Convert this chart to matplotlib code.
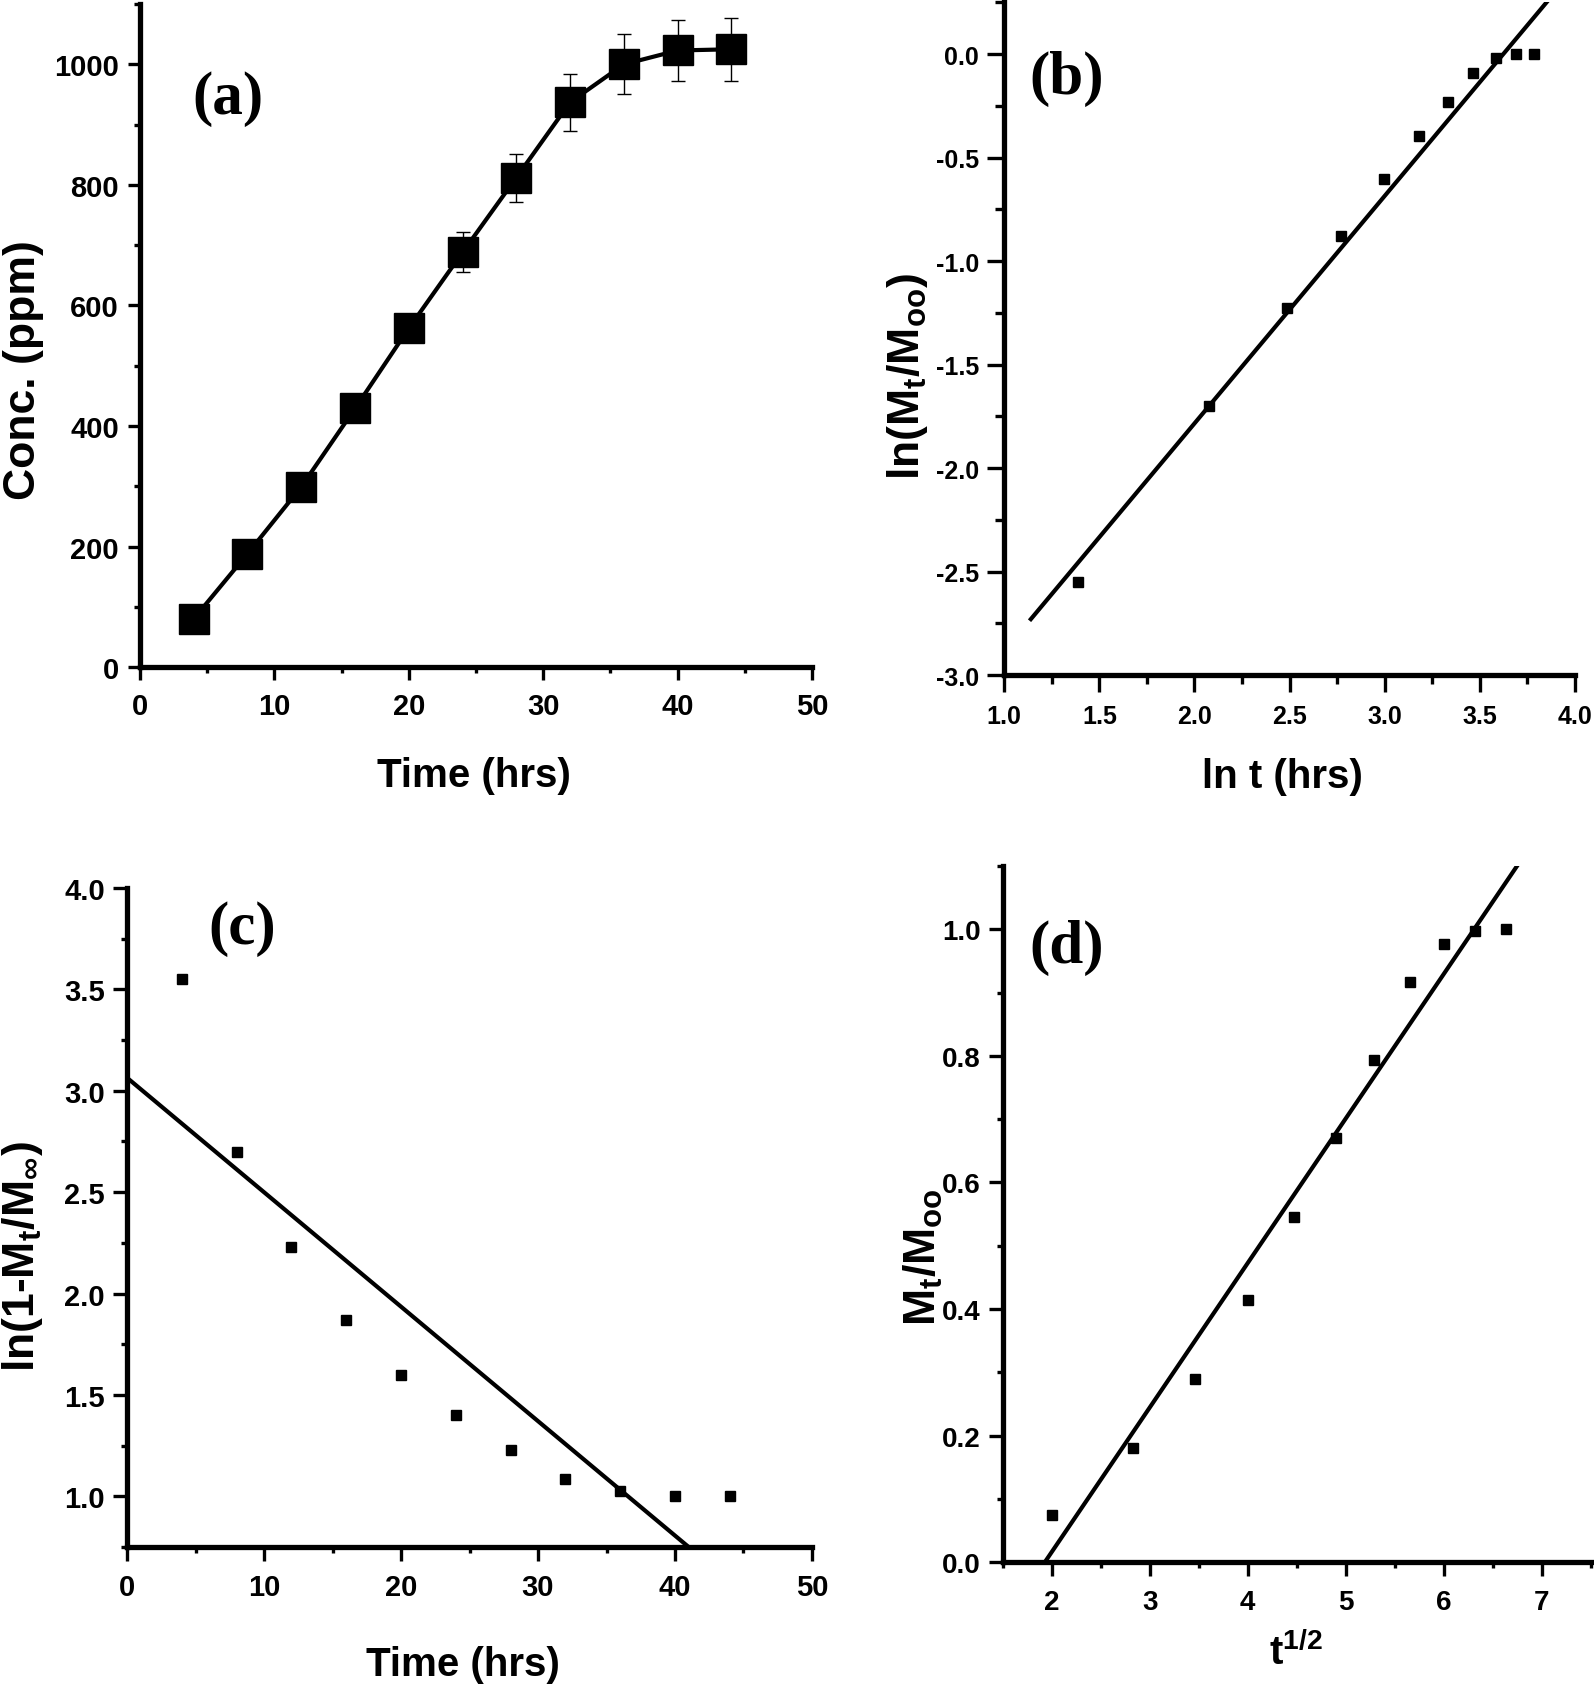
import matplotlib
matplotlib.use('Agg')
import matplotlib.pyplot as plt
from matplotlib import font_manager
from matplotlib.ticker import MultipleLocator, FormatStrFormatter

# data
time = [4, 8, 12, 16, 20, 24, 28, 32, 36, 40, 44]
conc = [80, 188, 299, 429, 562, 688, 812, 937, 1000, 1023, 1025]
conc_err = [6, 8, 10, 10, 12, 33, 40, 47, 50, 51, 52]

ln_t = [1.386, 2.079, 2.485, 2.773, 2.996, 3.178, 3.332, 3.466, 3.584, 3.689, 3.784]
ln_frac = [-2.55, -1.70, -1.228, -0.877, -0.605, -0.397, -0.231, -0.092, -0.02, 0.0, 0.0]
fit_b_x = [1.14, 3.86]
fit_b_y = [-2.73, 0.26]

ln_one_minus = [3.55, 2.70, 2.23, 1.87, 1.60, 1.40, 1.23, 1.085, 1.024, 1.0, 1.0]
fit_c_x = [0.0, 41.0]
fit_c_y = [3.064, 0.75]

sqrt_t = [2.0, 2.83, 3.46, 4.0, 4.47, 4.90, 5.29, 5.66, 6.0, 6.32, 6.63]
frac = [0.075, 0.18, 0.29, 0.415, 0.546, 0.671, 0.793, 0.916, 0.976, 0.998, 1.0]
fit_d_x = [1.93, 6.80]
fit_d_y = [0.0, 1.112]

names = {f.name for f in font_manager.fontManager.ttflist}
narrow = 'Liberation Sans Narrow' if 'Liberation Sans Narrow' in names else 'Liberation Sans'
xl_size = 34 if narrow == 'Liberation Sans Narrow' else 29

plt.rcParams['font.family'] = ['Liberation Sans', 'DejaVu Sans']
plt.rcParams['font.weight'] = 'bold'
plt.rcParams['axes.unicode_minus'] = False
plt.rcParams['mathtext.fontset'] = 'custom'
plt.rcParams['mathtext.rm'] = 'Liberation Sans:bold'
plt.rcParams['mathtext.it'] = 'Liberation Sans:bold'
plt.rcParams['mathtext.bf'] = 'Liberation Sans:bold'

fig = plt.figure(figsize=(15.94, 16.90), dpi=100)


def style(ax, tsize, major=9, minor=4.5):
    for s in ['top', 'right']:
        ax.spines[s].set_visible(False)
    for s in ['left', 'bottom']:
        ax.spines[s].set_linewidth(3.8)
    ax.tick_params(which='major', direction='out', length=major, width=2.4,
                   labelsize=tsize)
    ax.tick_params(which='minor', direction='out', length=minor, width=2.4)
    ax.tick_params(axis='x', which='major', pad=9)
    ax.tick_params(axis='y', which='major', pad=6)
    for lab in ax.get_xticklabels() + ax.get_yticklabels():
        lab.set_fontweight('bold')


def labels(ax, xtxt, ytxt, xpos, ypos):
    ax.set_xlabel(xtxt, family=narrow, fontsize=xl_size, fontweight='bold',
                  va='center')
    ax.set_ylabel(ytxt, fontsize=32, fontweight='bold', va='center')
    ax.xaxis.set_label_coords(*xpos)
    ax.yaxis.set_label_coords(*ypos)


def panel_label(ax, txt, x, y):
    ax.text(x, y, txt, transform=ax.transAxes, ha='center', va='center',
            fontsize=44, fontweight='bold', family='Liberation Serif')


# (a)
ax = fig.add_axes([0.0878, 0.6047, 0.4216, 0.3923])
ax.errorbar(time, conc, yerr=conc_err, fmt='s-', color='black', ms=21,
            lw=3, elinewidth=1, capsize=5, capthick=1, clip_on=False, zorder=3)
ax.set_xlim(0, 50)
ax.set_ylim(0, 1100)
ax.xaxis.set_major_locator(MultipleLocator(10))
ax.xaxis.set_minor_locator(MultipleLocator(5))
ax.yaxis.set_major_locator(MultipleLocator(200))
ax.yaxis.set_minor_locator(MultipleLocator(100))
style(ax, 21)
labels(ax, 'Time (hrs)', 'Conc. (ppm)', (0.497, -0.163), (-0.174, 0.449))
panel_label(ax, '(a)', 0.131, 0.858)

# (b)
ax = fig.add_axes([0.630, 0.600, 0.358, 0.398])
ax.plot(ln_t, ln_frac, 's', color='black', ms=6.5, zorder=3)
ax.plot(fit_b_x, fit_b_y, '-', color='black', lw=3)
ax.set_xlim(1.0, 4.0)
ax.set_ylim(-3.0, 0.25)
ax.xaxis.set_major_locator(MultipleLocator(0.5))
ax.xaxis.set_minor_locator(MultipleLocator(0.25))
ax.yaxis.set_major_locator(MultipleLocator(0.5))
ax.yaxis.set_minor_locator(MultipleLocator(0.25))
ax.xaxis.set_major_formatter(FormatStrFormatter('%.1f'))
ax.yaxis.set_major_formatter(FormatStrFormatter('%.1f'))
style(ax, 18, major=12, minor=6.5)
labels(ax, 'ln t (hrs)', 'ln(M$_t$/M$_{oo}$)', (0.488, -0.150), (-0.17, 0.446))
panel_label(ax, '(b)', 0.109, 0.887)

# (c)
ax = fig.add_axes([0.0797, 0.084, 0.4297, 0.390])
ax.plot(time, ln_one_minus, 's', color='black', ms=6.5, zorder=3)
ax.plot(fit_c_x, fit_c_y, '-', color='black', lw=3)
ax.set_xlim(0, 50)
ax.set_ylim(0.75, 4.0)
ax.xaxis.set_major_locator(MultipleLocator(10))
ax.xaxis.set_minor_locator(MultipleLocator(5))
ax.yaxis.set_major_locator(MultipleLocator(0.5))
ax.yaxis.set_minor_locator(MultipleLocator(0.25))
ax.yaxis.set_major_formatter(FormatStrFormatter('%.1f'))
style(ax, 21, major=10, minor=4.5)
labels(ax, 'Time (hrs)', 'ln(1-M$_t$/M$_\\infty$)', (0.49, -0.178), (-0.153, 0.442))
panel_label(ax, '(c)', 0.168, 0.939)

# (d)
ax = fig.add_axes([0.629, 0.075, 0.369, 0.412])
ax.plot(sqrt_t, frac, 's', color='black', ms=6.5, zorder=3)
ax.plot(fit_d_x, fit_d_y, '-', color='black', lw=3)
ax.set_xlim(1.5, 7.5)
ax.set_ylim(0.0, 1.1)
ax.xaxis.set_major_locator(MultipleLocator(1))
ax.xaxis.set_minor_locator(MultipleLocator(0.5))
ax.yaxis.set_major_locator(MultipleLocator(0.2))
ax.yaxis.set_minor_locator(MultipleLocator(0.1))
ax.yaxis.set_major_formatter(FormatStrFormatter('%.1f'))
style(ax, 20, major=10, minor=4.5)
labels(ax, 't$^{1/2}$', 'M$_t$/M$_{oo}$', (0.498, -0.129), (-0.134, 0.44))
panel_label(ax, '(d)', 0.109, 0.884)

fig.savefig('out.png', dpi=100)
